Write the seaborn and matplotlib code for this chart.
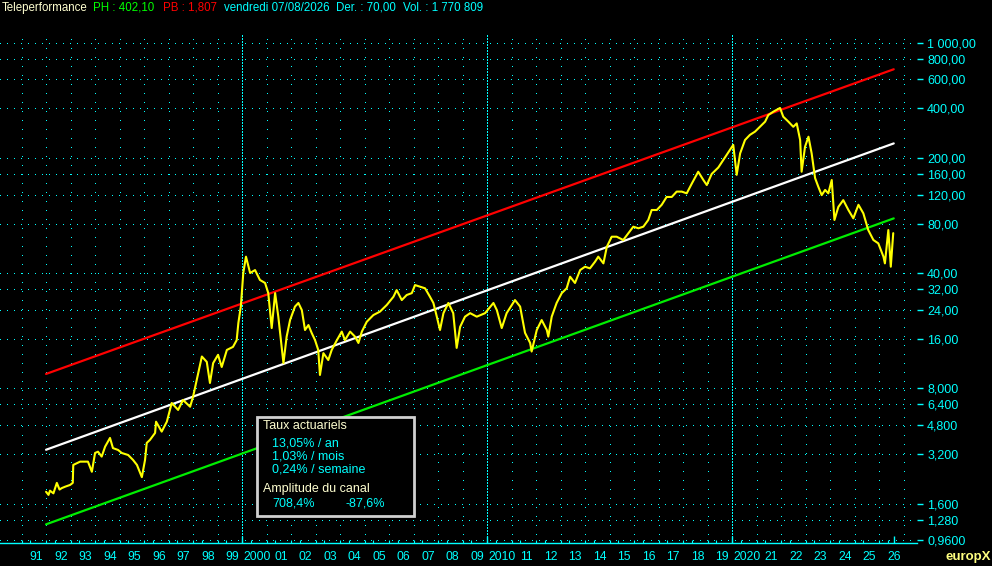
import numpy as np
import pandas as pd
import matplotlib
matplotlib.use("Agg")
import matplotlib.pyplot as plt
import seaborn as sns
from matplotlib.patches import Rectangle
from matplotlib.ticker import NullLocator

sns.set_theme(style="dark")
plt.rcParams['font.family'] = ['Liberation Sans', 'DejaVu Sans']

# Price series (year, price in EUR), split by decade
yrs_90s = [1992.0, 1992.1, 1992.16, 1992.3, 1992.44, 1992.55, 1992.64, 1992.78, 1992.98, 1993.09, 1993.11,
           1993.39, 1993.71, 1993.87, 1994.0, 1994.12, 1994.27, 1994.41, 1994.61, 1994.73, 1994.94,
           1995.09, 1995.35, 1995.55, 1995.71, 1995.91, 1996.04, 1996.11, 1996.24, 1996.45, 1996.49,
           1996.72, 1996.93, 1997.13, 1997.39, 1997.59, 1997.88, 1998.0, 1998.15, 1998.36, 1998.56,
           1998.69, 1998.82, 1999.02, 1999.17, 1999.38, 1999.63, 1999.78, 1999.85, 1999.95]
px_90s = [1.89, 1.81, 1.92, 1.85, 2.14, 1.95, 1.99, 2.03, 2.08, 2.14, 2.75,
          2.88, 2.88, 2.50, 3.25, 3.31, 3.09, 3.55, 4.01, 3.48, 3.39,
          3.25, 3.16, 2.95, 2.75, 2.32, 2.95, 3.74, 3.90, 4.30, 5.03,
          4.38, 5.03, 6.53, 5.93, 6.81, 6.20, 7.13, 9.00, 12.5, 11.6,
          8.64, 11.4, 12.8, 10.8, 13.7, 14.3, 15.7, 20.0, 25.1]

yrs_00s = [2000.05, 2000.16, 2000.33, 2000.53, 2000.73, 2000.94, 2001.07, 2001.21, 2001.35, 2001.48,
           2001.69, 2001.82, 2001.96, 2002.16, 2002.30, 2002.44, 2002.57, 2002.71, 2002.84, 2002.98,
           2003.11, 2003.18, 2003.32, 2003.52, 2003.66, 2003.87, 2004.07, 2004.20, 2004.41, 2004.61,
           2004.75, 2004.89, 2005.09, 2005.36, 2005.63, 2005.91, 2006.18, 2006.31, 2006.52, 2006.72,
           2006.93, 2007.06, 2007.27, 2007.47, 2007.67, 2007.81, 2007.95, 2008.08, 2008.22, 2008.42,
           2008.62, 2008.76, 2008.90, 2009.10, 2009.31, 2009.58, 2009.92]
px_00s = [40.1, 50.4, 40.1, 41.8, 36.4, 34.9, 30.3, 18.6, 30.3, 21.8,
          11.4, 16.5, 20.8, 25.1, 26.4, 23.9, 18.1, 19.4, 17.4, 15.7,
          13.7, 9.66, 13.1, 11.9, 13.7, 15.7, 17.7, 15.7, 17.7, 16.5,
          15.1, 17.7, 20.3, 22.3, 23.4, 25.7, 28.8, 31.6, 27.5, 29.5,
          30.3, 33.9, 33.1, 32.4, 28.8, 26.4, 21.8, 18.1, 22.9, 26.4,
          22.9, 14.1, 18.9, 21.8, 22.9, 21.8, 22.9]

yrs_10s = [2010.26, 2010.40, 2010.60, 2010.80, 2011.14, 2011.35, 2011.55, 2011.76, 2011.82, 2012.03,
           2012.23, 2012.44, 2012.50, 2012.64, 2012.84, 2013.05, 2013.25, 2013.39, 2013.59, 2013.80,
           2014.0, 2014.20, 2014.41, 2014.54, 2014.75, 2014.89, 2015.09, 2015.29, 2015.56, 2015.77,
           2015.97, 2016.18, 2016.38, 2016.58, 2016.72, 2016.93, 2017.13, 2017.33, 2017.54, 2017.74,
           2017.95, 2018.15, 2018.36, 2018.62, 2018.83, 2018.97, 2019.17, 2019.44, 2019.64, 2019.92]
px_10s = [26.4, 23.9, 18.6, 22.9, 27.5, 25.1, 17.4, 15.1, 13.4, 18.1,
          20.8, 18.1, 16.5, 21.8, 26.4, 30.3, 32.4, 38.1, 34.9, 41.8,
          43.8, 42.8, 47.0, 50.4, 45.9, 57.9, 66.6, 66.6, 63.6, 69.9,
          76.6, 74.9, 76.6, 84.1, 96.7, 96.7, 104, 116, 116, 125,
          125, 122, 140, 165, 147, 137, 160, 175, 194, 224]

yrs_20s = [2020.05, 2020.19, 2020.33, 2020.53, 2020.73, 2020.94, 2021.14, 2021.35, 2021.48, 2021.69,
           2021.96, 2022.09, 2022.30, 2022.50, 2022.64, 2022.78, 2022.84, 2022.98, 2023.12, 2023.25,
           2023.39, 2023.52, 2023.66, 2023.80, 2023.93, 2024.07, 2024.18, 2024.34, 2024.54, 2024.75,
           2024.95, 2025.16, 2025.36, 2025.56, 2025.77, 2025.97, 2026.18, 2026.24, 2026.38, 2026.48,
           2026.58]
px_20s = [240, 158, 213, 257, 276, 289, 309, 332, 364, 382,
          402, 356, 332, 309, 324, 257, 165, 234, 269, 213,
          151, 134, 119, 128, 122, 147, 84.1, 101, 111, 96.7,
          86.1, 104, 92.3, 73.1, 63.6, 60.7, 50.4, 45.9, 73.1, 43.8,
          70.0]

# Regression channel (start / end)
chan_years = [1992.0, 2026.6]
chan_upper = [9.8, 690]
chan_mid = [3.4, 245]
chan_lower = [1.2, 86]

y_ticks = [1000, 800, 600, 400, 200, 160, 120, 80, 40, 32, 24, 16, 8, 6.4, 4.8, 3.2, 1.6, 1.28, 0.96]
y_labels = ['1 000,00', '800,00', '600,00', '400,00', '200,00', '160,00', '120,00', '80,00',
            '40,00', '32,00', '24,00', '16,00', '8,000', '6,400', '4,800', '3,200',
            '1,600', '1,280', '0,9600']
year_ticks = list(range(1991, 2027))
year_labels = [str(y) if y % 10 == 0 else f"{y % 100:02d}" for y in year_ticks]

CYAN = '#00FFFF'
YELLOW = '#FFFF00'
RED = '#FF0000'
GREEN = '#00EE00'
PALE = '#FFFFD0'

W, H = 992, 566
fig = plt.figure(figsize=(W / 100, H / 100), dpi=100, facecolor='black')
ax = fig.add_axes([0, (H - 543) / H, 917 / W, (543 - 22) / H])
ax.set_facecolor('black')

# dotted grid
for v in y_ticks:
    ax.axhline(v, color=CYAN, lw=0.72, ls=(0, (1, 6)), antialiased=False, zorder=1)
for yr in range(1991, 2028):
    if yr % 10 == 0:
        ax.axvline(yr, ymax=0.977, color=CYAN, lw=1.0, antialiased=False, zorder=1,
                   ls=(0, (1, 1)))
    else:
        ax.axvline(yr, ymax=0.977, color=CYAN, lw=0.72, antialiased=False, zorder=1,
                   ls=(0, (1, 8.3)))

price = pd.DataFrame({
    'year': yrs_90s + yrs_00s + yrs_10s + yrs_20s,
    'price': px_90s + px_00s + px_10s + px_20s,
})
for vals, col in ((chan_upper, RED), (chan_mid, 'white'), (chan_lower, GREEN)):
    sns.lineplot(x=chan_years, y=vals, ax=ax, color=col, lw=1.6, zorder=3)
sns.lineplot(data=price, x='year', y='price', ax=ax, color=YELLOW, lw=1.5,
             estimator=None, sort=False, zorder=4)

ax.set_yscale('log')
ax.set_ylim(0.9247, 1335)
ax.set_xlim(1990.12, 2027.55)
ax.set_xlabel('')
ax.set_ylabel('')

ax.yaxis.tick_right()
ax.set_yticks(y_ticks)
ax.set_yticklabels(y_labels)
ax.yaxis.set_minor_locator(NullLocator())
ax.tick_params(axis='y', which='major', left=False, right=True, labelleft=False, labelright=True,
               colors=CYAN, length=4.3, width=1, pad=3, labelsize=9, direction='out')

ax.set_xticks([y + 0.6 for y in year_ticks])
ax.set_xticklabels(year_labels)
ax.set_xticks([y + f for y in range(1991, 2027) for f in (0.0, 0.35)], minor=True)
ax.tick_params(axis='x', which='major', bottom=True, length=0, pad=6, labelsize=8.7, colors=CYAN)
ax.tick_params(axis='x', which='minor', bottom=True, direction='in', length=2.5, width=0.8, color=CYAN)
ax.vlines([2000, 2010, 2020, chan_years[-1]], 0, 0.014, transform=ax.get_xaxis_transform(),
          color=CYAN, lw=1, zorder=5)

for s in ('top', 'left', 'right'):
    ax.spines[s].set_visible(False)
ax.spines['bottom'].set_color(CYAN)
ax.spines['bottom'].set_linewidth(1)


def fx(x):
    return x / W


def fy(y):
    return 1 - y / H


# header line
for txt, x, col in (('Teleperformance', 2, PALE), ('PH : 402,10', 93, '#00FF00'),
                    ('PB : 1,807', 163, RED), ('vendredi 07/08/2026', 224, CYAN),
                    ('Der. : 70,00', 336, CYAN), ('Vol. : 1 770 809', 403, CYAN)):
    fig.text(fx(x), fy(8), txt, color=col, fontsize=8.3, ha='left', va='center')

# info box
fig.add_artist(Rectangle((fx(257), fy(516)), (414 - 257) / W, (516 - 417) / H,
                         transform=fig.transFigure, facecolor='black', edgecolor='#D0D0D0',
                         lw=2, zorder=10))
box_text = [('Taux actuariels', 263, 426, PALE), ('13,05% / an', 272, 443, CYAN),
            ('1,03% / mois', 272, 456.5, CYAN), ('0,24% / semaine', 272, 470, CYAN),
            ('Amplitude du canal', 263, 489, PALE), ('708,4%', 272, 504, CYAN),
            ('-87,6%', 345, 504, CYAN)]
for txt, x, y, col in box_text:
    fig.text(fx(x), fy(y), txt, color=col, fontsize=9, ha='left', va='center', zorder=11)

fig.text(fx(946), fy(557), 'europX', color='#FFFF80', fontsize=9.5, fontweight='bold',
         ha='left', va='center')

fig.savefig('out.png', dpi=100, facecolor='black')
